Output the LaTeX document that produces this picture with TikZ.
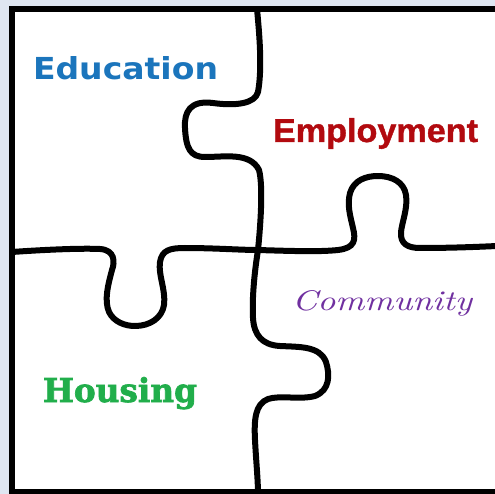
\documentclass[tikz,border=0pt]{standalone}
\usepackage{fontspec}
\usepackage{graphicx}
\newfontfamily\edufont{DejaVu Sans}
\newfontfamily\empfont[FakeBold=1.2]{Liberation Sans}
\newfontfamily\housefont[FakeBold=2]{DejaVu Serif}
\definecolor{bgblue}{HTML}{DFE6F1}
\definecolor{edublue}{HTML}{1B75BC}
\definecolor{empred}{HTML}{B20A0F}
\definecolor{compurple}{HTML}{7030A0}
\definecolor{housegreen}{HTML}{21AE4B}
\begin{document}
\begin{tikzpicture}[x=1pt,y=-1pt,
  cut/.style={draw=black,line width=6pt,line cap=round,line join=round},
  frame/.style={draw=black,line width=6pt},
  label/.style={anchor=base west,inner sep=0pt,outer sep=0pt}]
\useasboundingbox (0,0) rectangle (495,494);
\fill[bgblue] (0,0) rectangle (495,494);
\fill[white] (12,9) rectangle (495,494);
\draw[frame] (497,9) -- (12,9) -- (12,492) -- (497,492);
\coordinate (X) at (258,250);
% upper vertical cut
\draw[cut] (257,9) .. controls (260,40) and (262,70) .. (258,92)
  .. controls (255,104) and (235,106) .. (213,103)
  .. controls (190,100) and (184,112) .. (185,128)
  .. controls (186,148) and (190,157) .. (205,157)
  .. controls (225,157) and (250,152) .. (259,170)
  .. controls (263,185) and (261,220) .. (X);
% right horizontal cut
\draw[cut] (X) .. controls (290,251) and (320,252) .. (338,250)
  .. controls (355,248) and (356,240) .. (353,228)
  .. controls (350,215) and (347,205) .. (350,193)
  .. controls (354,180) and (366,176) .. (378,176)
  .. controls (392,176) and (404,182) .. (406,195)
  .. controls (408,208) and (402,222) .. (401,232)
  .. controls (400,244) and (408,248) .. (420,248)
  .. controls (450,248) and (475,247) .. (497,246);
% left horizontal cut
\draw[cut] (12,252) .. controls (40,250) and (80,248) .. (100,249)
  .. controls (115,250) and (115,262) .. (112,270)
  .. controls (108,285) and (104,300) .. (109,312)
  .. controls (114,322) and (125,326) .. (135,326)
  .. controls (150,326) and (162,318) .. (164,305)
  .. controls (166,290) and (158,275) .. (160,262)
  .. controls (162,250) and (170,248) .. (185,248)
  .. controls (215,248) and (240,250) .. (X);
% lower vertical cut
\draw[cut] (X) .. controls (254,275) and (252,300) .. (253,318)
  .. controls (254,335) and (262,345) .. (280,346)
  .. controls (300,347) and (320,346) .. (326,362)
  .. controls (330,375) and (330,390) .. (315,396)
  .. controls (300,400) and (280,395) .. (268,399)
  .. controls (255,404) and (254,420) .. (255,440)
  .. controls (256,460) and (258,480) .. (258,494);
% labels
\node[label,text=edublue] (edu) at (33,80) {\resizebox{185pt}{23pt}{\edufont\bfseries Education}};
\node[label,text=empred] (emp) at (273,142) {\resizebox{205pt}{24pt}{\empfont\bfseries Employment}};
\node[label,text=compurple] (com) at (292,310) {\resizebox{180pt}{20pt}{\itshape Community}};
\node[label,text=housegreen] (hou) at (43,402) {\resizebox{154pt}{25pt}{\housefont\bfseries Housing}};
\end{tikzpicture}
\end{document}
